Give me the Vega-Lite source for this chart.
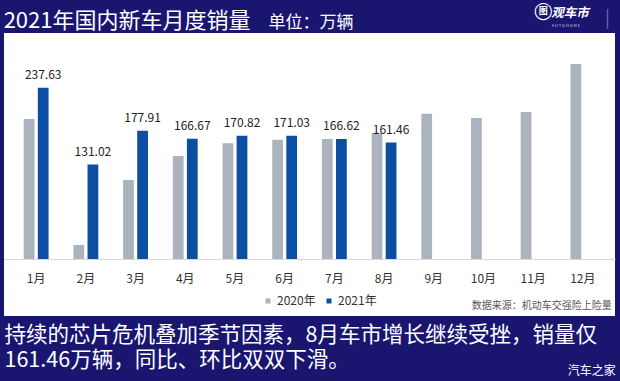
{
  "$schema": "https://vega.github.io/schema/vega-lite/v6.json",
  "width": 611,
  "height": 283,
  "autosize": {"type": "none"},
  "padding": {"left": 4, "top": 33, "right": 5, "bottom": 65},
  "background": "#1a1670",
  "config": {"view": {"fill": "white", "stroke": null}, "font": "Noto Sans CJK SC"},
  "datasets": {
    "sales": [
      {"month": "1月", "year": "2020年", "sales": 194.2},
      {"month": "2月", "year": "2020年", "sales": 19.4},
      {"month": "3月", "year": "2020年", "sales": 109.6},
      {"month": "4月", "year": "2020年", "sales": 142.9},
      {"month": "5月", "year": "2020年", "sales": 160.5},
      {"month": "6月", "year": "2020年", "sales": 165.5},
      {"month": "7月", "year": "2020年", "sales": 166.5},
      {"month": "8月", "year": "2020年", "sales": 175.2},
      {"month": "9月", "year": "2020年", "sales": 201.5},
      {"month": "10月", "year": "2020年", "sales": 195.6},
      {"month": "11月", "year": "2020年", "sales": 203.9},
      {"month": "12月", "year": "2020年", "sales": 270.5},
      {"month": "1月", "year": "2021年", "sales": 237.63},
      {"month": "2月", "year": "2021年", "sales": 131.02},
      {"month": "3月", "year": "2021年", "sales": 177.91},
      {"month": "4月", "year": "2021年", "sales": 166.67},
      {"month": "5月", "year": "2021年", "sales": 170.82},
      {"month": "6月", "year": "2021年", "sales": 171.03},
      {"month": "7月", "year": "2021年", "sales": 166.62},
      {"month": "8月", "year": "2021年", "sales": 161.46}
    ]
  },
  "layer": [
    {
      "data": {"name": "sales"},
      "mark": {"type": "bar"},
      "encoding": {
        "x": {
          "field": "month", "type": "nominal",
          "sort": ["1月","2月","3月","4月","5月","6月","7月","8月","9月","10月","11月","12月"],
          "scale": {"domain": ["1月","2月","3月","4月","5月","6月","7月","8月","9月","10月","11月","12月"], "paddingInner": 0.5, "paddingOuter": 0.397},
          "axis": {
            "orient": "bottom", "offset": -57,
            "title": ["持续的芯片危机叠加季节因素，8月车市增长继续受挫，销量仅", "161.46万辆，同比、环比双双下滑。"],
            "titleX": 0, "titleY": 82, "titleAlign": "left", "titleAnchor": "start", "titleBaseline": "alphabetic",
            "titleFontSize": 21.5, "titleFontWeight": "normal", "titleColor": "white", "titleLineHeight": 25, "titleLimit": 1000,
            "labelAngle": 0, "labelFontSize": 12, "labelColor": "#333333", "labelPadding": 23, "labelBaseline": "alphabetic",
            "ticks": false, "domainColor": "#d9d9d9", "domainWidth": 1, "grid": false
          }
        },
        "xOffset": {"field": "year", "type": "nominal", "scale": {"domain": ["2020年", "2021年"], "paddingInner": 0.236, "paddingOuter": 0}},
        "y": {
          "field": "sales", "type": "quantitative",
          "scale": {"domain": [-79.07, 313.5], "nice": false, "zero": false},
          "axis": {
            "orient": "left", "title": "单位：万辆", "titleAngle": 0, "titleX": 264, "titleY": -6,
            "titleAlign": "left", "titleBaseline": "alphabetic", "titleFontSize": 17, "titleFontWeight": "normal", "titleColor": "white",
            "labels": false, "ticks": false, "domain": false, "grid": false
          }
        },
        "color": {
          "field": "year", "type": "nominal",
          "scale": {"domain": ["2020年", "2021年"], "range": ["#aab3be", "#0b4ea2"]},
          "legend": {"orient": "none", "legendX": 258, "legendY": 262, "direction": "horizontal", "title": null, "symbolType": "square", "symbolSize": 25, "labelFontSize": 12, "labelColor": "#333333", "columnPadding": 7, "labelOffset": 3}
        }
      }
    },
    {
      "data": {"name": "sales"},
      "transform": [{"filter": "datum.year === '2021年'"}],
      "mark": {"type": "text", "baseline": "alphabetic", "dy": -9, "fontSize": 12, "color": "#222222"},
      "encoding": {
        "x": {"field": "month", "type": "nominal", "sort": ["1月","2月","3月","4月","5月","6月","7月","8月","9月","10月","11月","12月"]},
        "xOffset": {"field": "year", "type": "nominal"},
        "y": {"field": "sales", "type": "quantitative"},
        "text": {"field": "sales", "type": "quantitative", "format": ".2f"}
      }
    },
    {
      "data": {"values": [{"t": "2021年国内新车月度销量"}]},
      "mark": {"type": "text", "align": "left", "baseline": "alphabetic", "dx": -32.5, "fontSize": 22, "color": "white"},
      "encoding": {"x": {"datum": "1月"}, "y": {"datum": 321.0}, "text": {"field": "t"}}
    },
    {
      "data": {"values": [{"t": "数据来源：机动车交强险上险量"}]},
      "mark": {"type": "text", "align": "right", "baseline": "middle", "dx": 29, "fontSize": 10, "color": "#555555"},
      "encoding": {"x": {"datum": "12月"}, "y": {"datum": -65.2}, "text": {"field": "t"}}
    },
    {
      "data": {"values": [{"t": "汽车之家"}]},
      "mark": {"type": "text", "align": "right", "baseline": "alphabetic", "dx": 33, "fontSize": 12, "color": "white"},
      "encoding": {"x": {"datum": "12月"}, "y": {"datum": -160.9}, "text": {"field": "t"}}
    },
    {
      "data": {"values": [{"t": "◯"}]},
      "mark": {"type": "text", "align": "center", "baseline": "middle", "dx": -39.5, "fontSize": 17, "font": "DejaVu Sans", "color": "white"},
      "encoding": {"x": {"datum": "12月"}, "y": {"datum": 344.0}, "text": {"field": "t"}}
    },
    {
      "data": {"values": [{"t": "图"}]},
      "mark": {"type": "text", "align": "center", "baseline": "middle", "dx": -39.5, "fontSize": 9, "fontWeight": "bold", "color": "white"},
      "encoding": {"x": {"datum": "12月"}, "y": {"datum": 344.0}, "text": {"field": "t"}}
    },
    {
      "data": {"values": [{"t": "观车市"}]},
      "mark": {"type": "text", "align": "left", "baseline": "middle", "dx": -31.5, "fontSize": 12.5, "fontWeight": "bold", "fontStyle": "italic", "color": "white"},
      "encoding": {"x": {"datum": "12月"}, "y": {"datum": 341.2}, "text": {"field": "t"}}
    },
    {
      "data": {"values": [{"t": "A U T O H O M E"}]},
      "mark": {"type": "text", "align": "center", "baseline": "middle", "dx": -17, "fontSize": 4, "color": "#d0d0e0"},
      "encoding": {"x": {"datum": "12月"}, "y": {"datum": 323.9}, "text": {"field": "t"}}
    },
    {
      "data": {"values": [{"t": "|"}]},
      "mark": {"type": "text", "align": "center", "baseline": "middle", "dx": 24.5, "fontSize": 18, "color": "#6f6ca0"},
      "encoding": {"x": {"datum": "12月"}, "y": {"datum": 332.9}, "text": {"field": "t"}}
    }
  ]
}
